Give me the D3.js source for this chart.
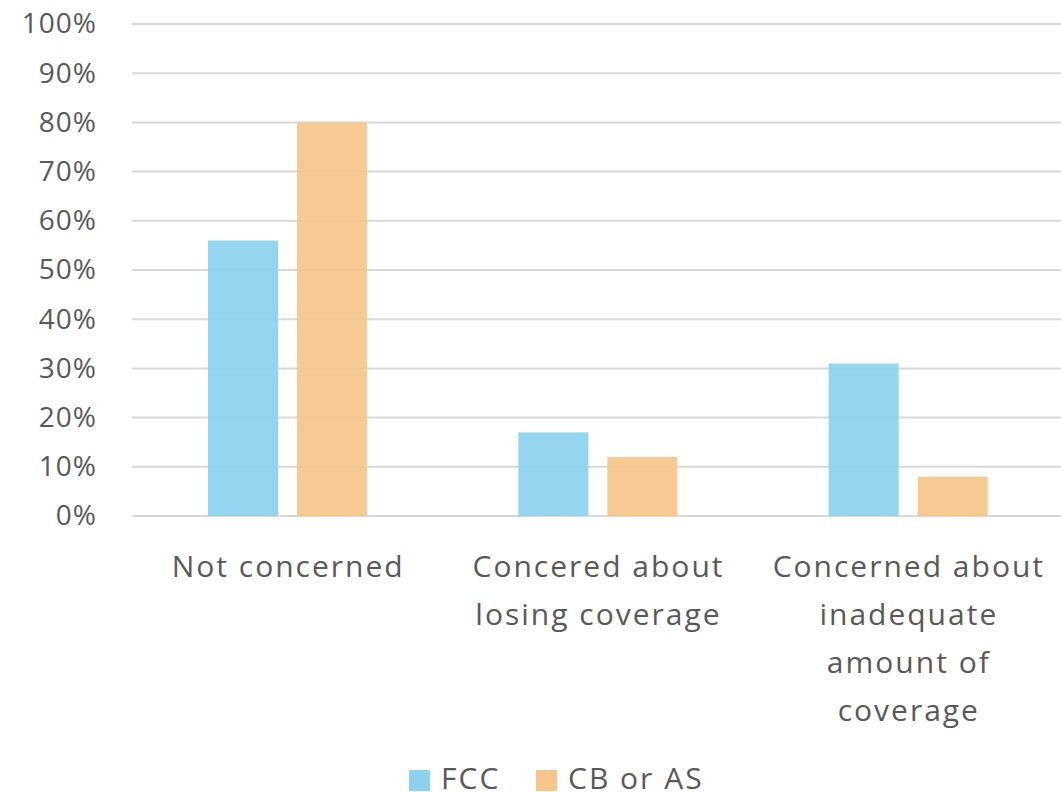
<!DOCTYPE html>
<html>
<head>
<meta charset="utf-8">
<script src="https://cdn.jsdelivr.net/npm/d3@7"></script>
<style>
  body { margin: 0; background: #fff; }
  text { font-family: "Open Sans", sans-serif; fill: #595959; }
</style>
</head>
<body>
<svg id="chart" width="1061" height="792"></svg>
<script>
// categories and series
const categories = [
  ["Not concerned"],
  ["Concered about", "losing coverage"],
  ["Concerned about", "inadequate", "amount of", "coverage"]
];
const seriesNames = ["FCC", "CB or AS"];
const fcc = [0.56, 0.17, 0.31];
const cbOrAs = [0.80, 0.12, 0.08];
const yTicks = [0, 0.1, 0.2, 0.3, 0.4, 0.5, 0.6, 0.7, 0.8, 0.9, 1.0];
const colors = ["#8dd1ee", "#f7c68a"];

let width = 1061
let height = 792
let margin = ({top: 24, right: -2, bottom: 276, left: 132})

const svg = d3.select("#chart");

let x0 = d3.scaleBand()
  .domain(d3.range(categories.length))
  .range([margin.left, width - margin.right])
  .paddingInner(0)
  .paddingOuter(0);

let x1 = d3.scaleBand()
  .domain(seriesNames)
  .range([76, 235])
  .paddingInner(0.2135);

let y = d3.scaleLinear()
  .domain([0, 1])
  .range([height - margin.bottom, margin.top]);

// gridlines
svg.append("g")
  .selectAll("line")
  .data(yTicks)
  .join("line")
    .attr("x1", margin.left)
    .attr("x2", width)
    .attr("y1", d => y(d))
    .attr("y2", d => y(d))
    .attr("stroke", "#d9d9d9")
    .attr("stroke-width", 2);

// y axis labels
svg.append("g")
  .attr("transform", `translate(${margin.left - 35},0)`)
  .call(d3.axisLeft(y).tickValues(yTicks).tickFormat(d3.format(".0%")).tickSize(0).tickPadding(0))
  .call(g => g.select(".domain").remove())
  .selectAll("text")
    .attr("font-size", 28)
    .attr("letter-spacing", 1)
    .attr("font-family", "Open Sans, sans-serif")
    .attr("fill", "#595959");

// bars
const rows = categories.map((c, i) => ({i, values: [fcc[i], cbOrAs[i]]}));
svg.append("g")
  .selectAll("g")
  .data(rows)
  .join("g")
    .attr("transform", d => `translate(${x0(d.i)},0)`)
  .selectAll("rect")
  .data(d => d.values.map((v, k) => ({name: seriesNames[k], v, k})))
  .join("rect")
    .attr("x", d => x1(d.name))
    .attr("y", d => y(d.v))
    .attr("width", x1.bandwidth())
    .attr("height", d => y(0) - y(d.v))
    .attr("fill", d => colors[d.k])
    .attr("fill-opacity", 0.92);

// category labels
const labels = svg.append("g")
  .selectAll("text")
  .data(categories)
  .join("text")
    .attr("text-anchor", "middle")
    .attr("font-size", 30)
    .attr("letter-spacing", 2)
    .attr("x", (d, i) => x0(i) + x0.bandwidth() / 2 + 1)
    .attr("y", 577);
labels.selectAll("tspan")
  .data(d => d)
  .join("tspan")
    .attr("x", function() { return this.parentNode.getAttribute("x"); })
    .attr("dy", (d, i) => i === 0 ? 0 : 48)
    .text(d => d);

// legend
const legendX = [409, 536];
const legend = svg.append("g")
  .selectAll("g")
  .data(seriesNames)
  .join("g")
    .attr("transform", (d, i) => `translate(${legendX[i]},770)`);
legend.append("rect")
  .attr("width", 21)
  .attr("height", 21)
  .attr("fill", (d, i) => colors[i]);
legend.append("text")
  .attr("x", 32)
  .attr("y", 19)
  .attr("font-size", 30)
  .attr("letter-spacing", 2)
  .text(d => d);
</script>
</body>
</html>
